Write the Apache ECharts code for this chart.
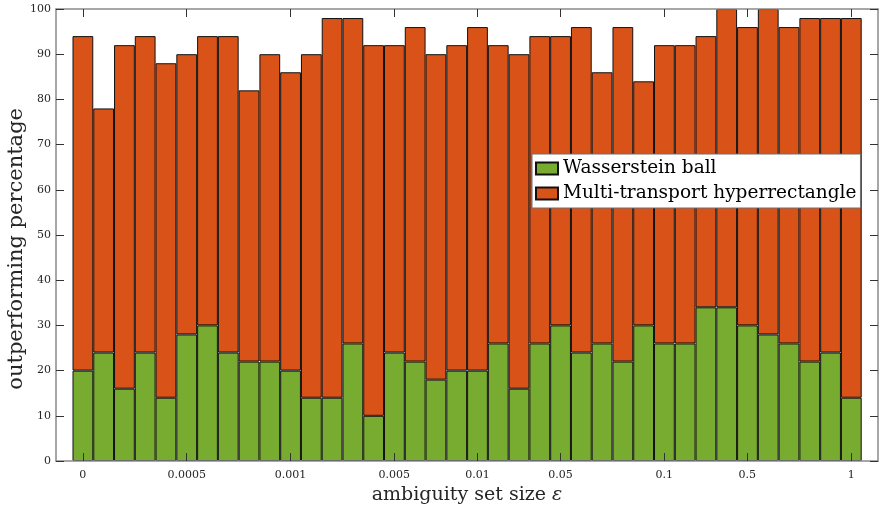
<!DOCTYPE html>
<html>
<head>
<meta charset="utf-8">
<script src="https://cdn.jsdelivr.net/npm/echarts@6/dist/echarts.min.js"></script>
<style>html,body{margin:0;padding:0;background:#fff}#c{width:883px;height:509px}</style>
</head>
<body>
<div id="c"></div>
<script>
// ---- data ----
const positions = [1,2,3,4,5,6,7,8,9,10,11,12,13,14,15,16,17,18,19,20,21,22,23,24,25,26,27,28,29,30,31,32,33,34,35,36,37,38];
const wasserstein = [20,24,16,24,14,28,30,24,22,22,20,14,14,26,10,24,22,18,20,20,26,16,26,30,24,26,22,30,26,26,34,34,30,28,26,22,24,14];
const multiTransport = [74,54,76,70,74,62,64,70,60,68,66,76,84,72,82,68,74,72,72,76,66,74,68,64,72,60,74,54,66,66,60,66,66,72,70,76,74,84];
const tickPositions = [1,6,11,16,20,24,29,33,38];
const tickLabels = ['0','0.0005','0.001','0.005','0.01','0.05','0.1','0.5','1'];
const seriesNames = ['Wasserstein ball','Multi-transport hyperrectangle'];

const serif = 'DejaVu Serif';
const chart = echarts.init(document.getElementById('c'));
const xMin = -0.29, xMax = 39.29;
const axisLineStyle = {color:'#8a8a8a', width:1.5};
const tickStyle = {color:'#333', width:1};

chart.setOption({
  animation:false,
  grid:[
    {left:56, top:9, right:5, bottom:48, outerBoundsMode:'none', containLabel:false},
    {left:72.5, top:9, right:21.3, bottom:48, outerBoundsMode:'none', containLabel:false}
  ],
  legend:{
    orient:'vertical', left:532, top:154, icon:'rect',
    backgroundColor:'#fff', borderColor:'#6f6f6f', borderWidth:1,
    padding:[5,4,5,3], itemWidth:22, itemHeight:12, itemGap:6,
    textStyle:{fontFamily:serif, fontSize:18.5, color:'#000'},
    data: seriesNames
  },
  xAxis:[{
    gridIndex:0, type:'value', min:xMin, max:xMax, position:'bottom', z:5,
    splitLine:{show:false},
    axisLine:{show:true, onZero:false, lineStyle:axisLineStyle},
    axisTick:{show:true, inside:true, length:8, lineStyle:tickStyle, customValues:tickPositions},
    axisLabel:{customValues:tickPositions, margin:9, fontFamily:serif, fontSize:11, color:'#262626',
      formatter:v=>{const i=tickPositions.indexOf(Math.round(v)); return i>=0?tickLabels[i]:'';}},
    name:'ambiguity set size {i|ε}', nameLocation:'middle', nameGap:24,
    nameTextStyle:{fontFamily:serif, fontSize:19, color:'#262626',
      rich:{i:{fontFamily:serif, fontStyle:'italic', fontSize:19, color:'#262626'}}}
  },{
    gridIndex:0, type:'value', min:xMin, max:xMax, position:'top', z:5,
    splitLine:{show:false},
    axisLine:{show:true, onZero:false, lineStyle:axisLineStyle},
    axisTick:{show:true, inside:true, length:8, lineStyle:tickStyle, customValues:tickPositions},
    axisLabel:{show:false}
  },{
    gridIndex:1, type:'category', data:positions, boundaryGap:true, show:false
  }],
  yAxis:[{
    gridIndex:0, type:'value', min:0, max:100, interval:10, position:'left', z:5,
    splitLine:{show:false},
    axisLine:{show:true, onZero:false, lineStyle:axisLineStyle},
    axisTick:{show:true, inside:true, length:8, lineStyle:tickStyle},
    axisLabel:{margin:5, fontFamily:serif, fontSize:11, color:'#262626'}
  },{
    gridIndex:0, type:'value', min:0, max:100, interval:10, position:'right', z:5,
    splitLine:{show:false},
    axisLine:{show:true, onZero:false, lineStyle:axisLineStyle},
    axisTick:{show:true, inside:true, length:8, lineStyle:tickStyle},
    axisLabel:{show:false}
  },{
    gridIndex:1, type:'value', min:0, max:100, show:false, splitLine:{show:false}
  }],
  graphic:[{
    type:'text', left:6, top:108, rotation:Math.PI/2, z:10,
    style:{text:'outperforming percentage', fontFamily:serif, fontSize:21, fill:'#262626'}
  }],
  series:[{
    name:seriesNames[0], type:'bar', stack:'s', barCategoryGap:'0%', xAxisIndex:2, yAxisIndex:2,
    itemStyle:{color:'#77AC30', borderColor:'#111', borderWidth:1},
    data:wasserstein
  },{
    name:seriesNames[1], type:'bar', stack:'s', barCategoryGap:'0%', xAxisIndex:2, yAxisIndex:2,
    itemStyle:{color:'#D95319', borderColor:'#111', borderWidth:1},
    data:multiTransport
  }]
});
</script>
</body>
</html>
